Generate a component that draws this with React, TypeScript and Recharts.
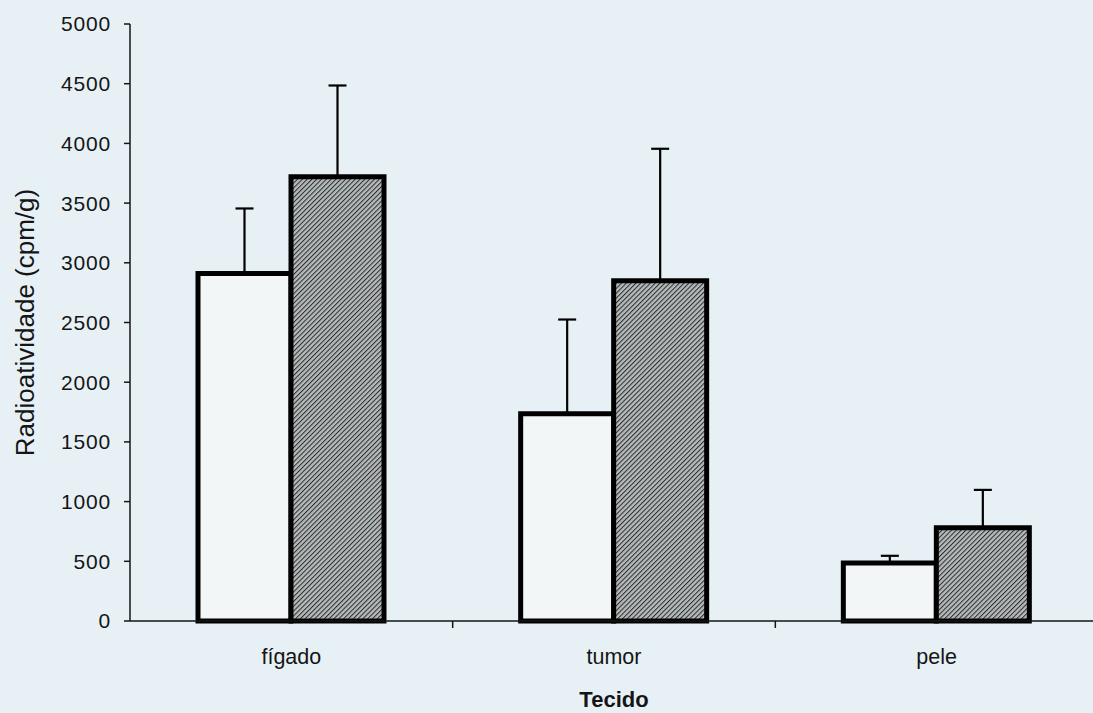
import { BarChart, Bar, XAxis, YAxis, ErrorBar } from 'recharts'

const tissues = ['fígado', 'tumor', 'pele']
const controlValues = [2910, 1735, 486]
const controlErrors = [545, 790, 60]
const treatedValues = [3720, 2850, 780]
const treatedErrors = [765, 1105, 318]
const yTicks = [0, 500, 1000, 1500, 2000, 2500, 3000, 3500, 4000, 4500, 5000]

const FONT = '"Liberation Sans", Arial, sans-serif'
const INK = '#151515'

const data = tissues.map((name, i) => ({
  name,
  control: controlValues[i],
  controlErr: [0, controlErrors[i]],
  treated: treatedValues[i],
  treatedErr: [0, treatedErrors[i]],
}))

function TissueTick(props: any) {
  const { x, y, payload } = props
  const edge = x + (payload.offset ?? 0)
  return (
    <g>
      <line x1={edge} y1={y} x2={edge} y2={y + 7} stroke={INK} strokeWidth={1.5} />
      <text x={x} y={y + 43} textAnchor="middle" fontSize={21.5} fontFamily={FONT} fill={INK}>
        {payload.value}
      </text>
    </g>
  )
}

function YLabel(props: any) {
  const { viewBox } = props
  const cx = viewBox.x + 25
  const cy = viewBox.y + viewBox.height / 2
  return (
    <text
      x={cx}
      y={cy}
      transform={`rotate(-90 ${cx} ${cy})`}
      textAnchor="middle"
      dominantBaseline="central"
      fontSize={26}
      fontFamily={FONT}
      fill={INK}
    >
      Radioatividade (cpm/g)
    </text>
  )
}

function XLabel(props: any) {
  const { viewBox } = props
  return (
    <text
      x={viewBox.x + viewBox.width / 2}
      y={viewBox.y + 86}
      textAnchor="middle"
      fontSize={22}
      fontWeight="bold"
      fontFamily={FONT}
      fill={INK}
    >
      Tecido
    </text>
  )
}

export default function App() {
  return (
    <div style={{ width: 1093, height: 713, overflow: 'hidden', background: '#e7f1f5' }}>
      <style>{`body { margin: 0; }`}</style>
      <BarChart
        width={1100}
        height={713}
        data={data}
        margin={{ top: 24, right: 2, bottom: 0, left: 0 }}
        barGap={0}
        barCategoryGap={68}
      >
        <defs>
          <pattern id="hatch" width="3.4" height="3.4" patternUnits="userSpaceOnUse" patternTransform="rotate(45)">
            <rect width="3.4" height="3.4" fill="#b4b9ba" />
            <line x1="0" y1="0" x2="0" y2="3.4" stroke="#2b2b2b" strokeWidth="2" />
          </pattern>
        </defs>
        <XAxis
          dataKey="name"
          height={92}
          tickSize={0}
          tickMargin={0}
          tickLine={false}
          axisLine={{ stroke: INK, strokeWidth: 1.5 }}
          tick={<TissueTick />}
          interval={0}
          label={<XLabel />}
        />
        <YAxis
          width={130}
          domain={[0, 5000]}
          ticks={yTicks}
          interval={0}
          tickSize={6}
          tickMargin={13}
          tickLine={{ stroke: INK, strokeWidth: 1.5 }}
          axisLine={{ stroke: INK, strokeWidth: 1.5 }}
          tick={{ fontSize: 21, fontFamily: FONT, fill: INK, letterSpacing: 0.8 }}
          label={<YLabel />}
        />
        <Bar dataKey="control" fill="#f2f6f7" stroke="#000" strokeWidth={5} isAnimationActive={false}>
          <ErrorBar dataKey="controlErr" direction="y" width={9} stroke="#000" strokeWidth={2.2} />
        </Bar>
        <Bar dataKey="treated" fill="url(#hatch)" stroke="#000" strokeWidth={5} isAnimationActive={false}>
          <ErrorBar dataKey="treatedErr" direction="y" width={9} stroke="#000" strokeWidth={2.2} />
        </Bar>
      </BarChart>
    </div>
  )
}
